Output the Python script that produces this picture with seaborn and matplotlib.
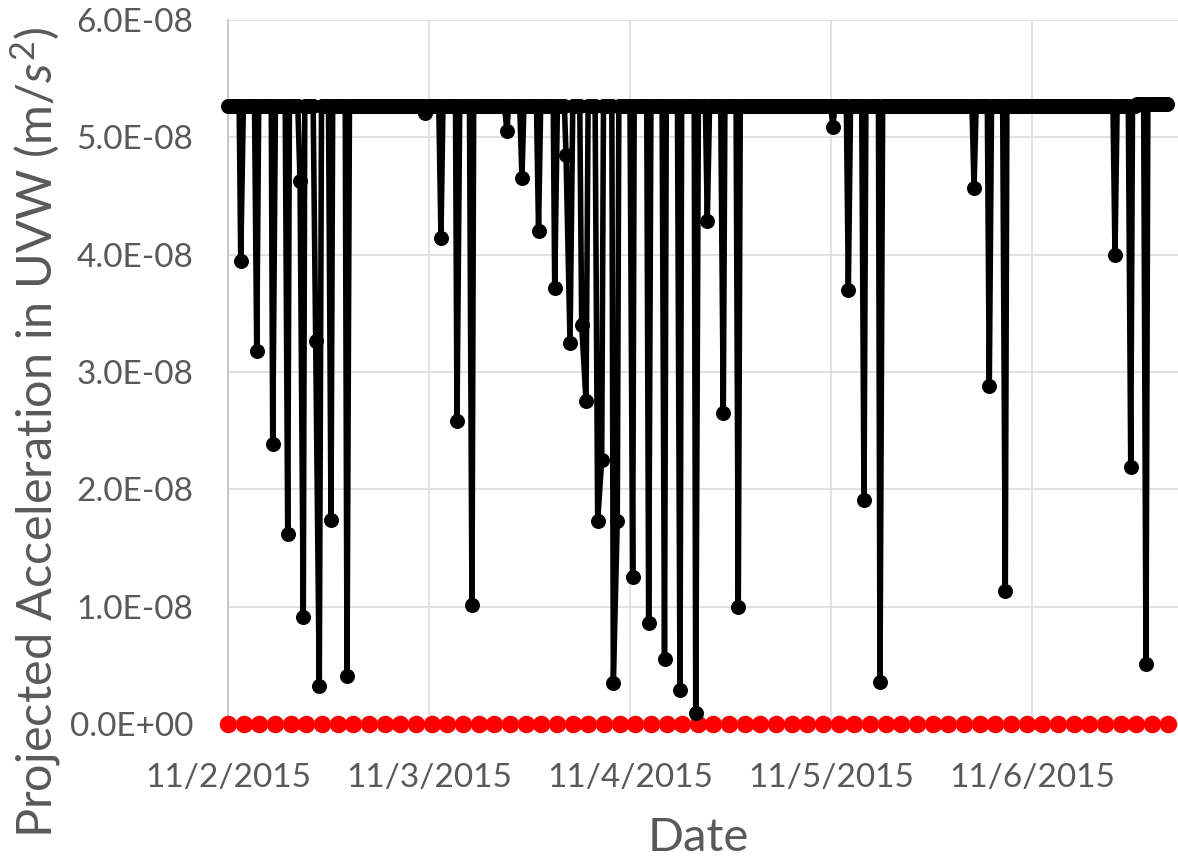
import numpy as np
import pandas as pd
import matplotlib
matplotlib.use("Agg")
import matplotlib.pyplot as plt
import matplotlib.dates as mdates
from matplotlib.ticker import FuncFormatter, MultipleLocator
import seaborn as sns

# ---- data -------------------------------------------------------------
start = pd.Timestamp("2015-11-02 00:00")

# Dips of the projected acceleration (hours after start, m/s^2)
dip_hours = [1.52, 3.43, 5.34, 7.13, 8.60, 8.99, 10.47, 10.90, 12.30, 14.21,
             23.52, 25.43, 27.34, 29.13, 33.31, 35.10, 37.08, 39.01, 40.36, 40.84,
             42.23, 42.75, 44.14, 44.62, 46.01, 46.48, 48.32, 50.23, 52.12, 53.97,
             55.85, 57.23, 59.14, 60.93, 72.20, 74.07, 75.94, 77.85, 89.08, 90.90,
             92.81, 105.91, 107.79, 109.61]
dip_values = [3.95e-08, 3.18e-08, 2.39e-08, 1.62e-08, 4.63e-08, 0.91e-08, 3.26e-08, 0.32e-08, 1.74e-08, 0.41e-08,
              5.21e-08, 4.14e-08, 2.58e-08, 1.01e-08, 5.05e-08, 4.65e-08, 4.20e-08, 3.72e-08, 4.85e-08, 3.25e-08,
              3.40e-08, 2.75e-08, 1.73e-08, 2.25e-08, 0.35e-08, 1.73e-08, 1.25e-08, 0.86e-08, 0.55e-08, 0.29e-08,
              0.09e-08, 4.29e-08, 2.65e-08, 1.00e-08, 5.09e-08, 3.70e-08, 1.91e-08, 0.36e-08, 4.57e-08, 2.88e-08,
              1.13e-08, 4.00e-08, 2.19e-08, 0.51e-08]

# Undisturbed level of the acceleration, before / after the switch hour
baseline_levels = [5.27e-08, 5.285e-08]
baseline_switch_hour = 108.5
sample_minutes = 10
end_hour = 112.3

# Second series: sampled every 1.87 h, all values at zero
zero_step_hours = 1.87
zero_values = [0.0] * 61

# ---- build the time series --------------------------------------------
grid_min = np.arange(0, end_hour * 60 + 1, sample_minutes, dtype=float)
dip_min = np.array(dip_hours) * 60.0
keep = np.ones(grid_min.size, dtype=bool)
for t in dip_min:
    keep &= np.abs(grid_min - t) > 10
# close pairs of dips are joined directly
for a, b in zip(dip_min[:-1], dip_min[1:]):
    if b - a < 35:
        keep &= ~((grid_min > a) & (grid_min < b))
base_min = grid_min[keep]
base_val = np.where(base_min / 60.0 < baseline_switch_hour,
                    baseline_levels[0], baseline_levels[1])

acc = pd.DataFrame({
    "minutes": np.concatenate([base_min, dip_min]),
    "accel": np.concatenate([base_val, dip_values]),
}).sort_values("minutes")
acc["time"] = start + pd.to_timedelta(acc["minutes"], unit="m")

zero_df = pd.DataFrame({
    "time": start + pd.to_timedelta(np.arange(len(zero_values)) * zero_step_hours, unit="h"),
    "accel": zero_values,
})

# ---- plot -------------------------------------------------------------
sns.set_style("whitegrid")
plt.rcParams["font.family"] = ["Lato", "DejaVu Sans"]
plt.rcParams["mathtext.fontset"] = "custom"
plt.rcParams["mathtext.rm"] = "Lato"
plt.rcParams["mathtext.it"] = "Lato:italic"

text_color = "#595959"
fig = plt.figure(figsize=(11.78, 8.61), dpi=100)
ax = fig.add_axes([228 / 1178, 1 - 724 / 861, 950 / 1178, 704 / 861])

sns.lineplot(data=zero_df, x="time", y="accel", ax=ax, color="#FF0000",
             linewidth=0, marker="o", markersize=12.6, markeredgewidth=0,
             estimator=None, clip_on=False, zorder=3, legend=False)
sns.lineplot(data=acc, x="time", y="accel", ax=ax, color="black",
             linewidth=4.0, marker="o", markersize=10.8, markeredgewidth=0,
             estimator=None, sort=True, clip_on=False, zorder=4, legend=False)

ax.set_ylim(0, 6e-08)
ax.yaxis.set_major_locator(MultipleLocator(1e-08))
ax.yaxis.set_major_formatter(FuncFormatter(lambda v, p: f"{v:.1E}"))

ax.set_xlim(start, start + pd.Timedelta(days=950 / 201))
ax.xaxis.set_major_locator(mdates.DayLocator())
ax.xaxis.set_major_formatter(
    FuncFormatter(lambda v, p: (lambda d: f"{d.month}/{d.day}/{d.year}")(mdates.num2date(v))))

ax.grid(True, color="#D9D9D9", linewidth=1.1)
for side in ["top", "right", "bottom"]:
    ax.spines[side].set_visible(False)
ax.spines["left"].set_color("#BFBFBF")
ax.spines["left"].set_linewidth(1.1)

ax.tick_params(axis="both", length=0, labelsize=24, labelcolor=text_color)
ax.tick_params(axis="y", pad=25)
ax.tick_params(axis="x", pad=28)

ax.set_xlabel("Date", fontsize=34, color=text_color)
ax.set_ylabel("Projected Acceleration in UVW (m/$s^2$)", fontsize=35, color=text_color)
ax.xaxis.set_label_coords((698 - 228) / 950, (724 - 838) / 704)
ax.xaxis.label.set_va("center")
ax.yaxis.set_label_coords((36 - 228) / 950, (724 - 432) / 704)
ax.yaxis.label.set_va("center")

fig.savefig("out.png", dpi=100)
